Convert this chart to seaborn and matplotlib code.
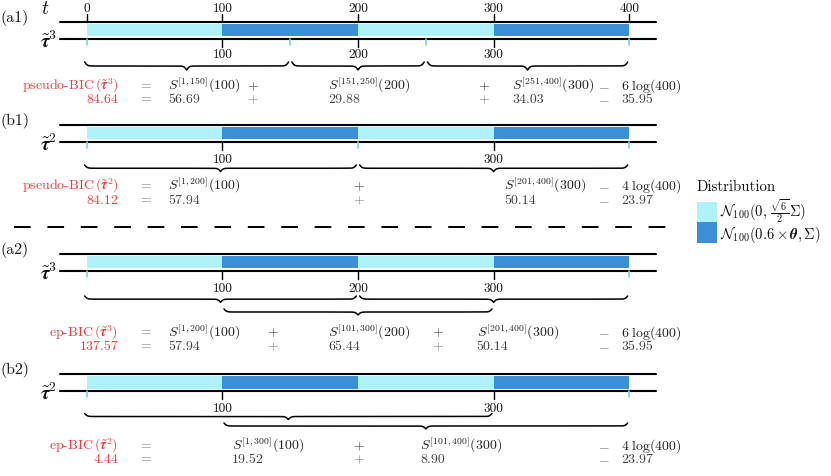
import numpy as np
import matplotlib
matplotlib.use("Agg")
import matplotlib.pyplot as plt
import seaborn as sns
from matplotlib.patches import Rectangle

# ---------------- data ----------------
seg_start = [0, 100, 200, 300]
seg_end = [100, 200, 300, 400]
seg_dist = [0, 1, 0, 1]
dist_labels = [r"$\mathcal{N}_{100}(\mathbf{0},\,\frac{\sqrt{6}}{2}\boldsymbol{\Sigma})$",
               r"$\mathcal{N}_{100}(0.6\times\boldsymbol{\theta},\boldsymbol{\Sigma})$"]
time_ticks = [0, 100, 200, 300, 400]

panel_names = ["(a1)", "(b1)", "(a2)", "(b2)"]
panel_k = [3, 2, 3, 2]
panel_cps = [[100, 200, 300], [100, 300], [100, 200, 300], [100, 300]]
panel_bounds = [[0, 150, 250, 400], [0, 200, 400], [0, 400], [0, 400]]
panel_intervals = [[(1, 150), (151, 250), (251, 400)],
                   [(1, 200), (201, 400)],
                   [(1, 200), (101, 300), (201, 400)],
                   [(1, 300), (101, 400)]]
panel_brace_rows = [[0, 0, 0], [0, 0], [0, 1, 0], [0, 1]]
panel_criterion = ["pseudo-BIC", "pseudo-BIC", "ep-BIC", "ep-BIC"]
panel_total = ["84.64", "84.12", "137.57", "4.44"]
panel_terms = [["56.69", "29.88", "34.03"], ["57.94", "50.14"],
               ["57.94", "65.44", "50.14"], ["19.52", "8.90"]]
panel_pen_coef = [6, 4, 6, 4]
panel_penalty = ["35.95", "23.97", "35.95", "23.97"]
n_total = 400

# ---------------- layout (pixels) ----------------
W, H = 831, 477
T0PX, PXPT = 86.7, 1.3565          # t=0 pixel, pixels per t unit
top_line = [22.7, 125.7, 254.7, 375.0]
gap = 16.8
brace_y = [[63.0], [166.0], [297.0, 310.0], [414.5, 424.0]]
brace_h = [[8.0], [6.5], [6.3, 6.0], [6.0, 6.0]]
row1_base = [90.0, 190.0, 336.5, 450.0]
row2_base = [103.3, 204.0, 350.0, 463.3]
tick_base = [58.3, 163.3, 291.7, 411.7]
plus_x = [[253.3, 484.0], [359.0], [273.3, 437.7], [359.3]]
term_x = [[168.3, 328.3, 512.3], [168.3, 504.3], [168.3, 328.3, 476.7], [232.3, 420.0]]

LIGHT = "#aef3fa"
DARK = "#3b8fd6"
TICKBLUE = "#6fd8ee"
RED = "#f03c3c"
colors = [LIGHT, DARK]

sns.set_theme(style="white")
plt.rcParams["mathtext.fontset"] = "cm"
plt.rcParams["axes.unicode_minus"] = False
FAM = "cmr10"
FS = 10

fig = plt.figure(figsize=(W / 100, H / 100), dpi=100)
ax = fig.add_axes([0, 0, 1, 1])
ax.set_xlim(-T0PX / PXPT, (W - T0PX) / PXPT)
ax.set_ylim(H, 0)
ax.axis("off")
lay = fig.add_axes([0, 0, 1, 1], sharey=ax)
lay.set_xlim(0, W)
lay.axis("off")
lay.patch.set_alpha(0)


def brace(x0, x1, y0, h, beta=0.75):
    X0 = T0PX + x0 * PXPT
    X1 = T0PX + x1 * PXPT
    half = (X1 - X0) / 2
    xs = np.linspace(0, half, 300)
    ys = 1 / (1 + np.exp(-beta * xs)) + 1 / (1 + np.exp(-beta * (xs - half)))
    ys = (ys - ys[0]) / (ys[-1] - ys[0])
    xf = np.concatenate([xs, 2 * half - xs[::-1][1:]])
    yf = np.concatenate([ys, ys[::-1][1:]])
    tt = (X0 + xf - T0PX) / PXPT
    ax.plot(tt, y0 + h * yf, color="black", lw=1.1, solid_capstyle="round")


for p in range(4):
    yt = top_line[p]
    yb = yt + gap
    # frame lines
    ax.plot([-19.7, 420], [yt, yt], color="black", lw=1.5)
    ax.plot([-19.7, 420], [yb, yb], color="black", lw=1.5)
    # segments
    for s, e, d in zip(seg_start, seg_end, seg_dist):
        ax.barh(y=(yt + yb) / 2, width=e - s, left=s, height=gap - 4.4,
                color=colors[d], edgecolor="none")
    # light boundary ticks
    for b in panel_bounds[p]:
        ax.plot([b, b], [yb, yb + 6], color=TICKBLUE, lw=1.2)
    # change point ticks
    for c in panel_cps[p]:
        ax.plot([c, c], [yb, yb + 8.5], color="black", lw=1.0)
        ax.text(c, tick_base[p], str(c), ha="center", va="baseline",
                fontsize=9.6, family=FAM, color="#111111")
    # braces
    for (a, b), r in zip(panel_intervals[p], panel_brace_rows[p]):
        x0 = a - 1 + (1.2 if a > 1 else -1.5)
        x1 = b - 1.2
        brace(x0, x1, brace_y[p][r], brace_h[p][r])
    # labels
    lay.text(0, yt - 5, panel_names[p], ha="left", va="center",
             fontsize=11.5, family=FAM, color="#111111")
    lay.text(57, yb + 1.5, r"$\tilde{\boldsymbol{\tau}}^{%d}$" % panel_k[p],
             ha="right", va="center", fontsize=14, color="#111111")
    # formula rows
    r1, r2 = row1_base[p], row2_base[p]
    lay.text(118.3, r1, panel_criterion[p] + r"$\,(\tilde{\boldsymbol{\tau}}^{%d})$" % panel_k[p],
             ha="right", va="baseline", fontsize=FS, family=FAM, color=RED)
    lay.text(118.3, r2, panel_total[p], ha="right", va="baseline",
             fontsize=FS, family=FAM, color=RED)
    for yy in (r1, r2):
        lay.text(146, yy, "=", ha="center", va="baseline", fontsize=FS,
                 family=FAM, color="#777777")
        lay.text(604, yy, r"$-$", ha="center", va="baseline", fontsize=FS,
                 color="#666666")
    for px in plus_x[p]:
        lay.text(px, r1, r"$+$", ha="center", va="baseline", fontsize=FS, color="#333333")
        lay.text(px, r2, r"$+$", ha="center", va="baseline", fontsize=FS, color="#777777")
    for (a, b), c, v, tx in zip(panel_intervals[p], panel_cps[p], panel_terms[p], term_x[p]):
        lay.text(tx, r1, r"$S^{[%d,%d]}(%d)$" % (a, b, c), ha="left", va="baseline",
                 fontsize=FS, color="#222222")
        lay.text(tx, r2, v, ha="left", va="baseline", fontsize=FS, family=FAM,
                 color="#444444")
    lay.text(621, r1, r"$%d\;\log(%d)$" % (panel_pen_coef[p], n_total), ha="left",
             va="baseline", fontsize=FS, color="#222222")
    lay.text(621, r2, panel_penalty[p], ha="left", va="baseline", fontsize=FS,
             family=FAM, color="#444444")

# top time axis (panel a1)
for t in time_ticks:
    ax.plot([t, t], [15, top_line[0]], color="black", lw=1.0)
    ax.text(t, 11.7, str(t), ha="center", va="baseline", fontsize=9.6,
            family=FAM, color="#111111")
lay.text(45, 9, r"$t$", ha="center", va="center", fontsize=14, color="#111111")

# dashed separator
lay.plot([14, 682], [228.3, 228.3], color="black", lw=1.4,
         linestyle=(0, (16.7 * 0.72 / 1.4, 16.7 * 0.72 / 1.4)))

# legend
lay.text(697, 191, "Distribution", ha="left", va="baseline", fontsize=10.8,
         family=FAM, color="#111111")
leg_y = [202.7, 223.3]
leg_base = [217.5, 239.0]
for i, lab in enumerate(dist_labels):
    lay.add_patch(Rectangle((696.7, leg_y[i]), 20.6, 20.6, facecolor=colors[i],
                            edgecolor="none"))
    lay.text(720, leg_base[i], lab, ha="left", va="baseline", fontsize=10.5,
             color="#111111")

fig.savefig("out.png", dpi=100)
